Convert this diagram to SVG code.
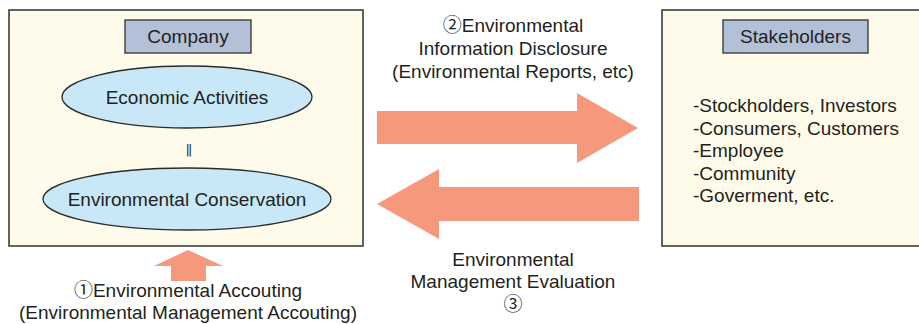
<svg xmlns="http://www.w3.org/2000/svg" width="919" height="324" viewBox="0 0 919 324">
<style>
.panel{fill:#fffbea;stroke:#3c3c3c;stroke-width:1.6}
.label{fill:#b3c1d8;stroke:#3c3c3c;stroke-width:1.4}
.oval{fill:#c8e8f7;stroke:#2b2b2b;stroke-width:1.3}
.arrow{fill:#f5987b}
text{font-family:"Liberation Sans","Noto Sans CJK JP",Arial,sans-serif;font-size:19px;fill:#231f20}
.c{text-anchor:middle}
</style>
<rect width="919" height="324" fill="#ffffff"/>
<g id="company">
<rect class="panel" x="9" y="10" width="354" height="236"/>
<rect class="label" x="125" y="20" width="126" height="33"/>
<text class="c" x="188" y="43">Company</text>
</g>
<g id="economic-activities">
<ellipse class="oval" cx="187" cy="97" rx="125" ry="31"/>
<text class="c" x="187" y="104">Economic Activities</text>
</g>
<g id="equals">
<text class="c" x="188" y="154" style="font-family:'DejaVu Sans',sans-serif;font-size:13px;letter-spacing:-2px">||</text>
</g>
<g id="environmental-conservation">
<ellipse class="oval" cx="187" cy="199" rx="144" ry="31"/>
<text class="c" x="187" y="206">Environmental Conservation</text>
</g>
<g id="stakeholders">
<rect class="panel" x="662" y="10" width="262" height="236"/>
<rect class="label" x="723" y="20" width="145" height="33"/>
<text class="c" x="795.5" y="43">Stakeholders</text>
<text x="693" y="112">-Stockholders, Investors</text>
<text x="693" y="135">-Consumers, Customers</text>
<text x="693" y="157">-Employee</text>
<text x="693" y="180">-Community</text>
<text x="693" y="202">-Goverment, etc.</text>
</g>
<g id="connectors">
<polygon class="arrow" points="377,111 577,111 577,93 638,128 577,163 577,144 377,144"/>
<polygon class="arrow" points="639,187 439,187 439,169 377,204 439,239 439,221 639,221"/>
<polygon class="arrow" points="171,281 171,266 154,266 188,250 223,266 206,266 206,281"/>
</g>
<g id="label-disclosure">
<text class="c" x="513" y="32">②Environmental</text>
<text class="c" x="513" y="55">Information Disclosure</text>
<text class="c" x="513" y="78">(Environmental Reports, etc)</text>
</g>
<g id="label-evaluation">
<text class="c" x="513" y="266">Environmental</text>
<text class="c" x="513" y="288">Management Evaluation</text>
<text class="c" x="513" y="311">③</text>
</g>
<g id="label-accounting">
<text class="c" x="188" y="297">①Environmental Accouting</text>
<text class="c" x="188" y="319">(Environmental Management Accouting)</text>
</g>
</svg>
